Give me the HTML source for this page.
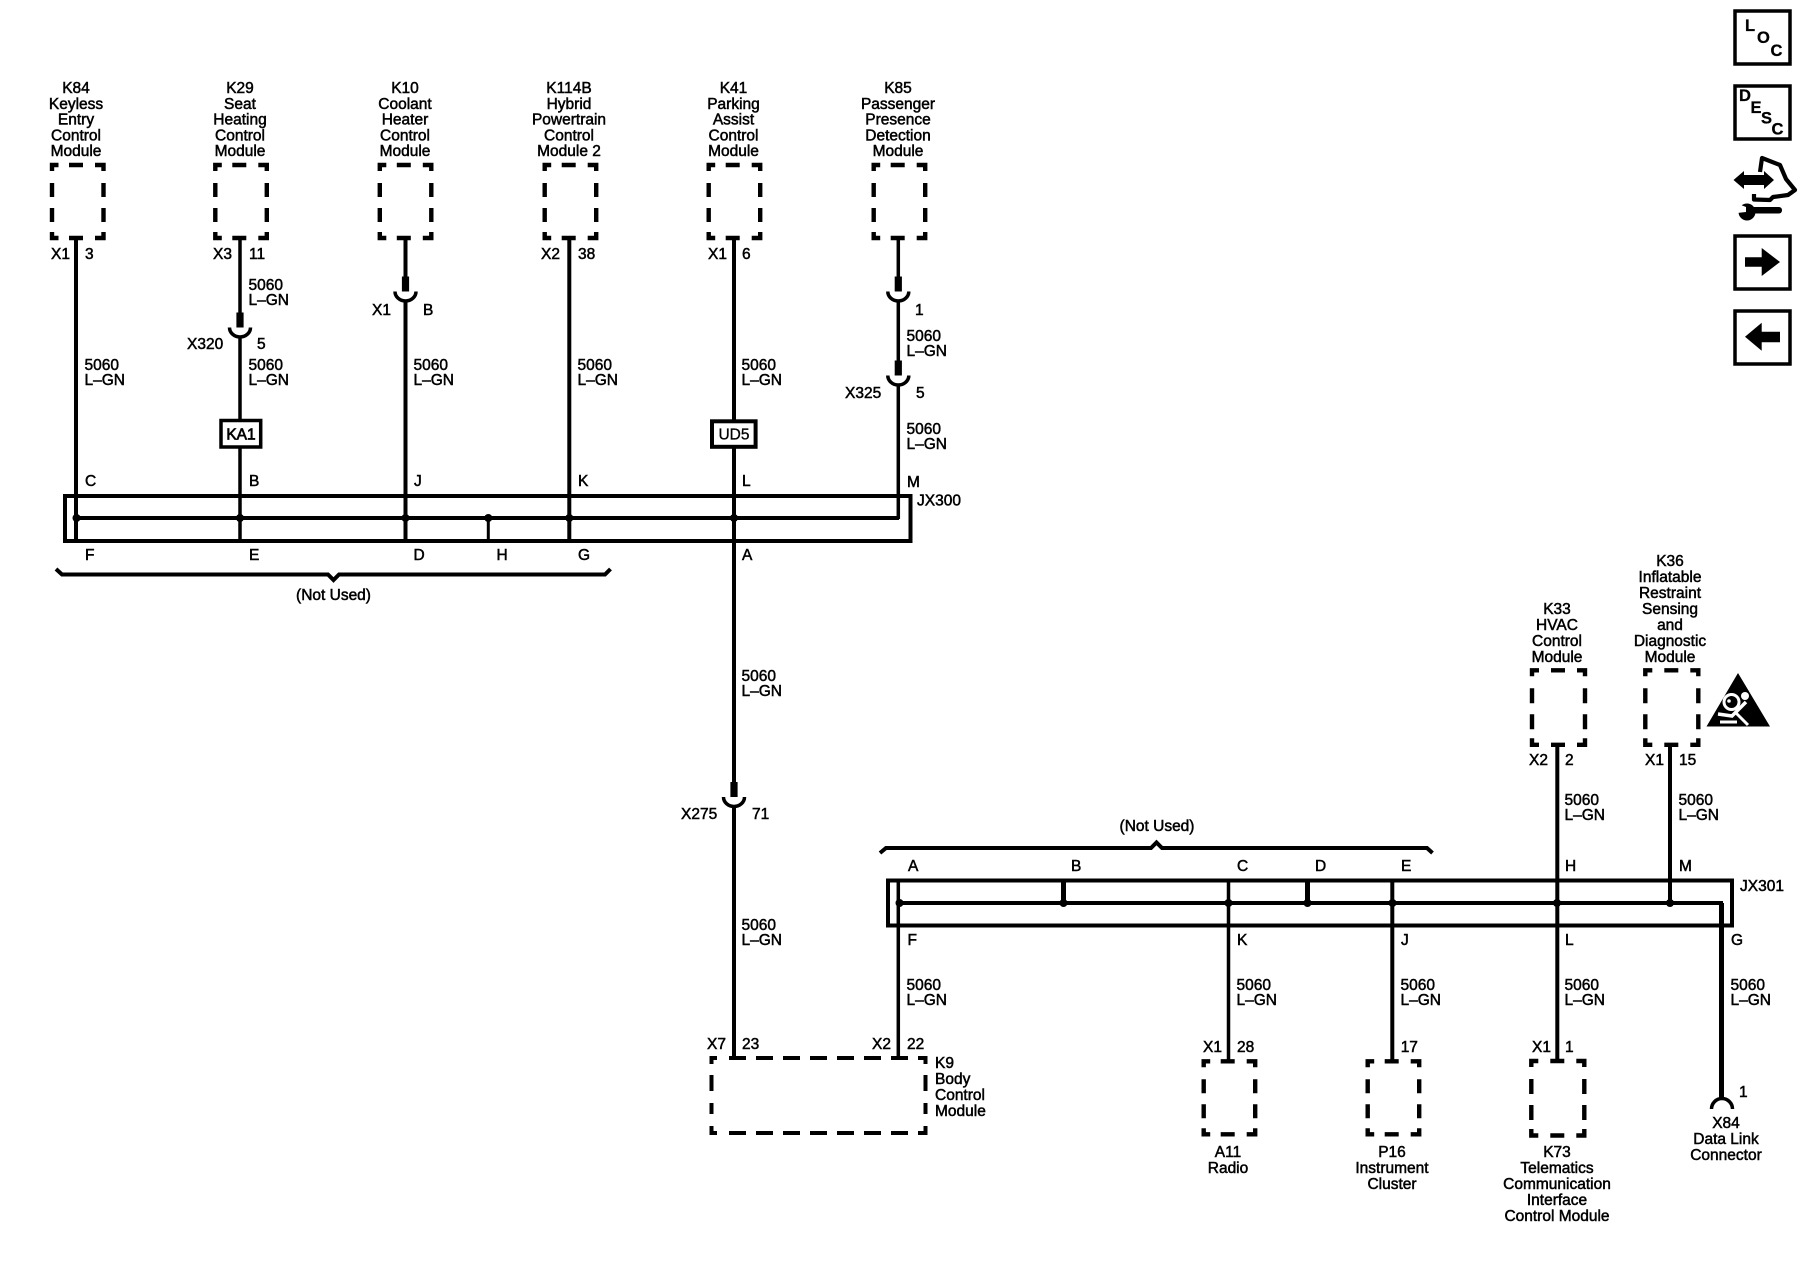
<!DOCTYPE html>
<html><head><meta charset="utf-8"><title>Wiring diagram</title>
<style>
html,body{margin:0;padding:0;background:#fff}
svg{display:block}
text{font-family:"Liberation Sans",sans-serif;font-size:15.5px;fill:#000;stroke:#000;stroke-width:.5}
.c{text-anchor:middle}
.b{font-weight:bold;font-size:16.5px;stroke-width:.3}
.w{fill:none;stroke:#000}
</style></head><body>
<svg width="1800" height="1280" viewBox="0 0 1800 1280" xmlns="http://www.w3.org/2000/svg">
<defs>
<path id="mb" fill="none" stroke="#000" stroke-width="4.4" d="M0 6V0H6.500M17 0H31M43 0H51.500V6M0 18V32M0 43V57M51.500 18V32M51.500 43V57M0 67V73H6.500M17 73H31M43 73H51.500V67"/>
<path id="mc" fill="none" stroke="#000" stroke-width="4.4" d="M0 6V0H7M19 0H33M45 0H53V6M0 18V33M0 44V59M53 18V33M53 44V59M0 68V74.500H7M19 74.500H33M45 74.500H53V68"/>
<g id="cn"><rect x="-3.6" y="-15" width="7.2" height="15" fill="#000"/><path class="w" stroke-width="3.5" d="M-10.5 0A10.5 9.5 0 0 0 10.5 0"/></g>
</defs>
<rect width="1800" height="1280" fill="#fff"/>

<!-- top modules -->
<use href="#mb" x="52" y="165"/><use href="#mb" x="215.3" y="165"/><use href="#mb" x="379.8" y="165"/>
<use href="#mb" x="544.7" y="165"/><use href="#mb" x="708.7" y="165"/><use href="#mb" x="873.7" y="165"/>
<text class="c" x="76" y="93">K84</text><text class="c" x="76" y="108.800">Keyless</text><text class="c" x="76" y="124.500">Entry</text><text class="c" x="76" y="140.300">Control</text><text class="c" x="76" y="156">Module</text>
<text class="c" x="240" y="93">K29</text><text class="c" x="240" y="108.800">Seat</text><text class="c" x="240" y="124.500">Heating</text><text class="c" x="240" y="140.300">Control</text><text class="c" x="240" y="156">Module</text>
<text class="c" x="405" y="93">K10</text><text class="c" x="405" y="108.800">Coolant</text><text class="c" x="405" y="124.500">Heater</text><text class="c" x="405" y="140.300">Control</text><text class="c" x="405" y="156">Module</text>
<text class="c" x="569" y="93">K114B</text><text class="c" x="569" y="108.800">Hybrid</text><text class="c" x="569" y="124.500">Powertrain</text><text class="c" x="569" y="140.300">Control</text><text class="c" x="569" y="156">Module 2</text>
<text class="c" x="733.5" y="93">K41</text><text class="c" x="733.5" y="108.800">Parking</text><text class="c" x="733.5" y="124.500">Assist</text><text class="c" x="733.5" y="140.300">Control</text><text class="c" x="733.5" y="156">Module</text>
<text class="c" x="898" y="93">K85</text><text class="c" x="898" y="108.800">Passenger</text><text class="c" x="898" y="124.500">Presence</text><text class="c" x="898" y="140.300">Detection</text><text class="c" x="898" y="156">Module</text>

<!-- top wires -->
<path class="w" stroke-width="4" d="M76 238V541M405.5 238V280M405.5 300V541M569.3 238V541M734 238V785M734 805V1058"/>
<path class="w" stroke-width="3.5" d="M240 238V315M240 336V541M898.3 238V280M898.3 300V362M898.3 384V519"/>
<use href="#cn" x="240" y="327.5"/><use href="#cn" x="405.5" y="291.5"/><use href="#cn" x="898.3" y="291.5"/><use href="#cn" x="898.3" y="375.5"/><use href="#cn" x="734" y="797"/>

<rect x="221" y="420.5" width="39.7" height="26.5" fill="#fff" stroke="#000" stroke-width="3.5"/>
<text class="c" x="241" y="439.5" style="stroke-width:.7">KA1</text>
<rect x="712" y="421.3" width="43.6" height="25.5" fill="#fff" stroke="#000" stroke-width="4"/>
<text class="c" x="734" y="439.5" style="stroke-width:.3">UD5</text>

<!-- JX300 -->
<rect x="65" y="496" width="845.5" height="45" fill="none" stroke="#000" stroke-width="4"/>
<path class="w" stroke-width="4" d="M76 518H899"/>
<path class="w" stroke-width="3" d="M488.3 518V541"/>
<g fill="#000"><circle cx="76.5" cy="518" r="4"/><circle cx="240" cy="518" r="4"/><circle cx="405.5" cy="518" r="4"/><circle cx="488.3" cy="518" r="4"/><circle cx="569.3" cy="518" r="4"/><circle cx="734" cy="518" r="4"/></g>
<path class="w" stroke-width="4" d="M56 569L62 574.5H328L333.5 580L339 574.5H605L610.5 569"/>
<text class="c" x="333.5" y="600">(Not Used)</text>

<text x="51" y="259">X1</text><text x="85" y="259">3</text>
<text x="213" y="259">X3</text><text x="249" y="259">11</text>
<text x="541" y="259">X2</text><text x="578" y="259">38</text>
<text x="708" y="259">X1</text><text x="742" y="259">6</text>
<text x="372" y="315">X1</text><text x="423" y="315">B</text>
<text x="187" y="349">X320</text><text x="257" y="349">5</text>
<text x="915" y="315">1</text>
<text x="845" y="398">X325</text><text x="916" y="398">5</text>

<text x="84.500" y="370">5060</text><text x="84.500" y="385">L–GN</text>
<text x="248.500" y="290">5060</text><text x="248.500" y="305">L–GN</text>
<text x="248.500" y="370">5060</text><text x="248.500" y="385">L–GN</text>
<text x="413.500" y="370">5060</text><text x="413.500" y="385">L–GN</text>
<text x="577.500" y="370">5060</text><text x="577.500" y="385">L–GN</text>
<text x="741.500" y="370">5060</text><text x="741.500" y="385">L–GN</text>
<text x="906.500" y="341">5060</text><text x="906.500" y="356">L–GN</text>
<text x="906.500" y="434">5060</text><text x="906.500" y="449">L–GN</text>

<text x="85" y="486">C</text><text x="249" y="486">B</text><text x="414" y="486">J</text><text x="578" y="486">K</text><text x="742" y="486">L</text><text x="907" y="487">M</text>
<text x="917" y="505.5">JX300</text>
<text x="85" y="560">F</text><text x="249" y="560">E</text><text x="413.5" y="560">D</text><text x="496.5" y="560">H</text><text x="578" y="560">G</text><text x="742" y="560">A</text>

<text x="741.500" y="681">5060</text><text x="741.500" y="696">L–GN</text>
<text x="681" y="819">X275</text><text x="752" y="819">71</text>
<text x="741.500" y="930">5060</text><text x="741.500" y="945">L–GN</text>
<text x="707" y="1049">X7</text><text x="742" y="1049">23</text>
<text x="872" y="1049">X2</text><text x="907" y="1049">22</text>

<!-- K9 -->
<path class="w" stroke-width="4" d="M711.5 1064V1058H717M729 1058H746M756 1058H773M783 1058H800M810 1058H827M837 1058H854M864 1058H881M891 1058H908M918 1058H925.5V1064M711.5 1075V1091M711.5 1103V1114M925.5 1075V1091M925.5 1103V1114M711.5 1126V1133H717M729 1133H746M756 1133H773M783 1133H800M810 1133H827M837 1133H854M864 1133H881M891 1133H908M918 1133H925.5V1126"/>
<text x="935" y="1068">K9</text><text x="935" y="1084">Body</text><text x="935" y="1100">Control</text><text x="935" y="1116">Module</text>

<!-- JX301 -->
<rect x="888" y="880.5" width="844" height="45" fill="none" stroke="#000" stroke-width="4"/>
<path class="w" stroke-width="4" d="M899 903H1723"/>
<path class="w" stroke-width="3.5" d="M898.3 880V1058M1228.5 880V1062"/>
<path class="w" stroke-width="4" d="M1392.3 880V1062M1557.3 743V1062M1670 743V903"/>
<path class="w" stroke-width="5" d="M1063.5 880V903M1307.5 880V903M1721.5 903V1100"/>
<g fill="#000"><circle cx="899.5" cy="903" r="4"/><circle cx="1063.5" cy="903" r="4"/><circle cx="1228.5" cy="903" r="4"/><circle cx="1307.5" cy="903" r="4"/><circle cx="1392.5" cy="903" r="4"/><circle cx="1557" cy="903" r="4"/><circle cx="1670" cy="903" r="4"/></g>
<path class="w" stroke-width="4" d="M880 853L886 848H1151L1156.5 842.5L1162 848H1427L1432.5 853"/>
<text class="c" x="1157" y="831">(Not Used)</text>
<text x="908" y="871">A</text><text x="1071" y="871">B</text><text x="1237" y="871">C</text><text x="1315" y="871">D</text><text x="1401" y="871">E</text><text x="1565" y="871">H</text><text x="1679" y="871">M</text>
<text x="1740" y="891">JX301</text>
<text x="907.5" y="945">F</text><text x="1237" y="945">K</text><text x="1401" y="945">J</text><text x="1565" y="945">L</text><text x="1731" y="945">G</text>
<text x="906.500" y="990">5060</text><text x="906.500" y="1005">L–GN</text>
<text x="1236.500" y="990">5060</text><text x="1236.500" y="1005">L–GN</text>
<text x="1400.500" y="990">5060</text><text x="1400.500" y="1005">L–GN</text>
<text x="1564.500" y="990">5060</text><text x="1564.500" y="1005">L–GN</text>
<text x="1730.500" y="990">5060</text><text x="1730.500" y="1005">L–GN</text>

<!-- upper right modules -->
<use href="#mc" x="1532" y="670.3"/><use href="#mc" x="1645.3" y="670.3"/>
<text class="c" x="1557" y="614">K33</text><text class="c" x="1557" y="630">HVAC</text><text class="c" x="1557" y="646">Control</text><text class="c" x="1557" y="662">Module</text>
<text class="c" x="1670" y="566">K36</text><text class="c" x="1670" y="582">Inflatable</text><text class="c" x="1670" y="598">Restraint</text><text class="c" x="1670" y="614">Sensing</text><text class="c" x="1670" y="630">and</text><text class="c" x="1670" y="646">Diagnostic</text><text class="c" x="1670" y="662">Module</text>
<text x="1529" y="765">X2</text><text x="1565" y="765">2</text><text x="1645" y="765">X1</text><text x="1679" y="765">15</text>
<text x="1564.500" y="805">5060</text><text x="1564.500" y="820">L–GN</text>
<text x="1678.500" y="805">5060</text><text x="1678.500" y="820">L–GN</text>

<!-- triangle icon -->
<polygon points="1738,673 1770,726.5 1706.5,726.5" fill="#000"/>
<circle cx="1731.5" cy="702" r="9" fill="#fff"/><circle cx="1731.5" cy="702" r="6" fill="#000"/><circle cx="1729" cy="701" r="1.800" fill="#fff"/>
<circle cx="1745" cy="696" r="4" fill="#fff"/>
<path d="M1718 714L1732 716L1746 702" fill="none" stroke="#fff" stroke-width="3.500"/>
<path d="M1720 722H1737M1735 712L1748 725" fill="none" stroke="#fff" stroke-width="3"/>

<!-- lower modules -->
<use href="#mb" x="1203.7" y="1061.3"/><use href="#mb" x="1367.7" y="1061.3"/><use href="#mc" x="1531.3" y="1061"/>
<text x="1203" y="1052">X1</text><text x="1237" y="1052">28</text><text x="1400.7" y="1052">17</text><text x="1532" y="1052">X1</text><text x="1565" y="1052">1</text>
<text class="c" x="1228" y="1157">A11</text><text class="c" x="1228" y="1173">Radio</text>
<text class="c" x="1392" y="1157">P16</text><text class="c" x="1392" y="1173">Instrument</text><text class="c" x="1392" y="1189">Cluster</text>
<text class="c" x="1557" y="1157">K73</text><text class="c" x="1557" y="1173">Telematics</text><text class="c" x="1557" y="1189">Communication</text><text class="c" x="1557" y="1205">Interface</text><text class="c" x="1557" y="1221">Control Module</text>
<path class="w" stroke-width="3.5" d="M1711.5 1109A10.5 10.5 0 0 1 1732.5 1109"/>
<text x="1739" y="1097">1</text>
<text class="c" x="1726" y="1128">X84</text><text class="c" x="1726" y="1144">Data Link</text><text class="c" x="1726" y="1160">Connector</text>

<!-- side icons -->
<g fill="none" stroke="#000" stroke-width="3.5">
<rect x="1735" y="11" width="55" height="53"/><rect x="1735" y="86" width="55" height="53"/>
<rect x="1735" y="236" width="55" height="53"/><rect x="1735" y="311" width="55" height="53"/>
</g>
<text class="b" x="1745" y="31">L</text><text class="b" x="1757" y="43">O</text><text class="b" x="1770.5" y="56">C</text>
<text class="b" x="1739" y="101">D</text><text class="b" x="1750.5" y="113">E</text><text class="b" x="1761" y="123.5">S</text><text class="b" x="1771.5" y="134.5">C</text>
<polygon points="1733.5,180 1744,171 1744,175 1764,175 1764,171 1774,180 1764,189 1764,185 1744,185 1744,189" fill="#000"/>
<path class="w" stroke-width="4.200" stroke-linejoin="round" d="M1760 172L1762 158L1780 165L1786 179L1795 190L1788 195L1773 197L1770 200L1754 199.500V194"/>
<rect x="1750" y="207" width="32" height="6.500" rx="3" fill="#000"/>
<circle cx="1747" cy="212" r="8.500" fill="#000"/>
<polygon points="1736,203 1746,207 1746,212 1737,213" fill="#fff"/>
<polygon points="1745,257.300 1761.700,257.300 1761.700,248 1780,262 1761.700,276 1761.700,266.700 1745,266.700" fill="#000"/>
<polygon points="1780,331.700 1761.700,331.700 1761.700,322.700 1745,336.700 1761.700,350.700 1761.700,342.300 1780,342.300" fill="#000"/>
</svg>
</body></html>
